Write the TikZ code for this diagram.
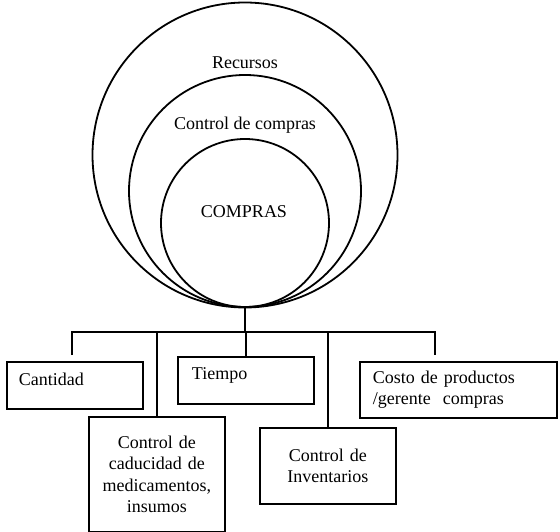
\documentclass[tikz,border=0pt]{standalone}
\usepackage{fontspec}
\setmainfont{Liberation Serif}
\begin{document}
\begin{tikzpicture}[x=1pt,y=-1pt, line width=1.8pt,
  ring/.style={draw, circle, inner sep=0pt},
  lbl/.style={font=\fontsize{18}{21.5}\selectfont, inner sep=0pt},
  box/.style={draw, rectangle, anchor=north west, inner ysep=0pt,
    font=\fontsize{18}{21.5}\selectfont}]
\useasboundingbox (0,0) rectangle (560,532);
% circles
\node[ring, minimum size=305pt] (outer) at (245,155) {};
\node[ring, minimum size=232pt] (middle) at (245,191) {};
\node[ring, minimum size=168pt] (inner) at (245,223) {};
\node[lbl] (trec) at (245,63) {Recursos};
\node[lbl] (tcc) at (245,125) {Control de compras};
\node[lbl] (tcomp) at (244,212) {COMPRAS};
% boxes
\node[box, inner xsep=12pt, text width=112pt, align=left, minimum height=47pt,
  text height=12.3pt, text depth=11.3pt] (cant) at (6,361) {Cantidad};
\node[box, inner xsep=14pt, text width=108pt, align=left, minimum height=47pt,
  text height=12.3pt, text depth=13.3pt] (tiempo) at (177,356) {Tiempo};
\node[box, inner xsep=13pt, text width=171pt, align=left, minimum height=56pt] (costo) at (359,361) {Costo de productos\\/gerente\ \ compras};
\node[box, inner xsep=5pt, text width=126pt, align=center, minimum height=115pt] (cad) at (88,416) {Control de\\caducidad de\\medicamentos,\\insumos};
\node[box, inner xsep=5pt, text width=126pt, align=center, minimum height=76pt] (inv) at (259,427) {Control de\\Inventarios};
% connectors
\coordinate (busL) at (72,332);
\coordinate (busR) at (435,332);
\coordinate (cantEnd) at (72,355);
\coordinate (costEnd) at (435,355);
\draw (outer.south) -- (outer.south |- busL);
\draw (cantEnd) -- (busL) -- (busR) -- (costEnd);
\draw (cad.north) -- (cad.north |- busL);
\draw (tiempo.north) -- (tiempo.north |- busL);
\draw (inv.north) -- (inv.north |- busL);
\end{tikzpicture}
\end{document}
